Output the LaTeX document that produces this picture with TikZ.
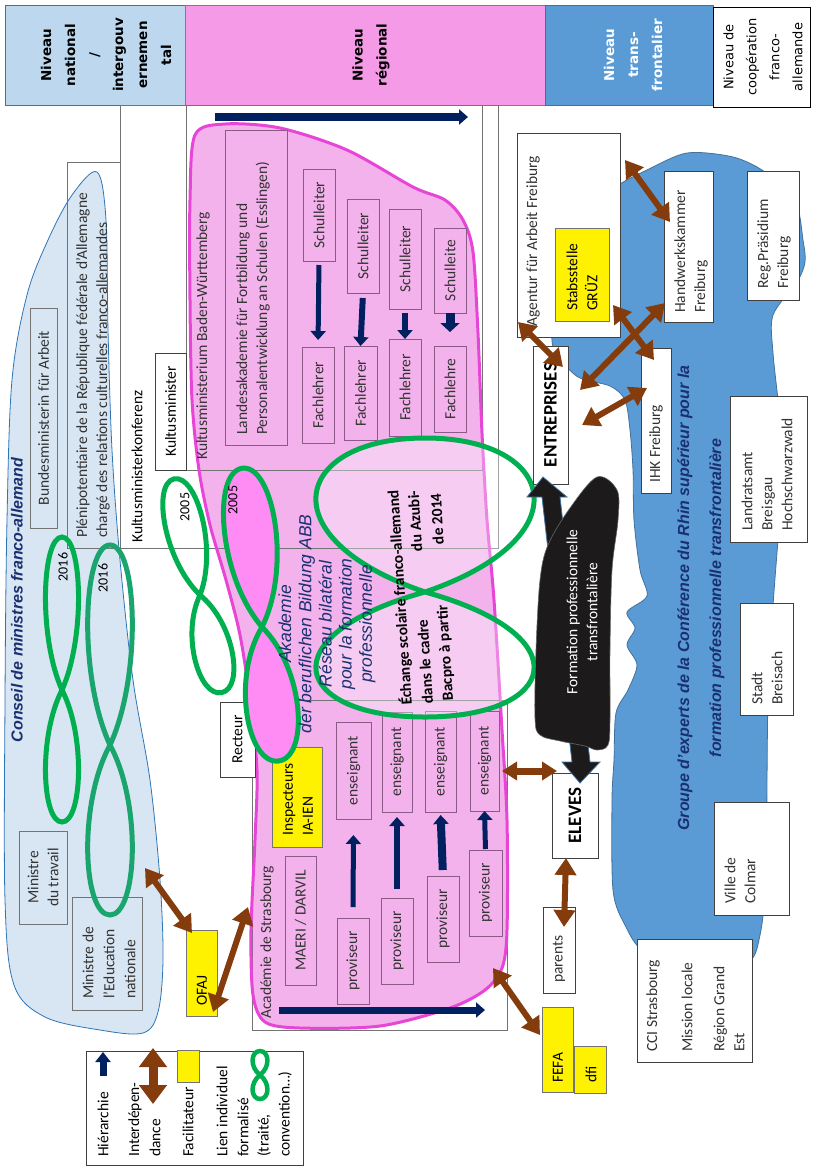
\documentclass[tikz,border=0pt]{standalone}
\usepackage{fontspec}
\setmainfont{Carlito}
\newfontfamily\dejavu{DejaVu Sans}
\newfontfamily\libsans{Liberation Sans}
\usetikzlibrary{arrows.meta}
\definecolor{hdrblue}{HTML}{BDD7EE}
\definecolor{hdrpink}{HTML}{F59AE6}
\definecolor{hdrpinkline}{HTML}{E03CCF}
\definecolor{riverblue}{HTML}{5B9BD5}
\definecolor{riverline}{HTML}{41719C}
\definecolor{conseilfill}{HTML}{D8E5F2}
\definecolor{conseilline}{HTML}{2E75B6}
\definecolor{blobpink}{HTML}{F4B2EC}
\definecolor{blobline}{HTML}{E645D6}
\definecolor{greena}{HTML}{00B050}
\definecolor{greenb}{HTML}{1BA56E}
\definecolor{navyc}{HTML}{002060}
\definecolor{navyt}{HTML}{1A3070}
\definecolor{brownc}{HTML}{843C0C}
\definecolor{magfill}{HTML}{FF8CF4}
\definecolor{pboxline}{HTML}{8B5A86}
\definecolor{txtgray}{HTML}{333333}
\definecolor{darkshape}{HTML}{1C1A1B}
\newcommand\fsz[2]{\fontsize{#1}{#2}\selectfont}
\newcommand\mybox[6]{\node[#6, minimum width={(#4)-(#2)}, minimum height={(#5)-(#3)}] (#1) at ({((#2)+(#4))/2},{((#3)+(#5))/2}) {};}
\newcommand\eightloop[7]{%
\begin{scope}[shift={(#1,#2)}, rotate=#3]
\draw[#7] (0,0) .. controls ({1.2*#4},{-0.35*#5}) and ({#4},{-#5}) .. (0,{-#5})
 .. controls ({-#4},{-#5}) and ({-1.2*#4},{-0.35*#5}) .. (0,0)
 .. controls ({1.2*#4},{0.35*#6}) and ({#4},{#6}) .. (0,{#6})
 .. controls ({-#4},{#6}) and ({-1.2*#4},{0.35*#6}) .. (0,0) -- cycle;
\end{scope}}
\begin{document}
\begin{tikzpicture}[x=1pt,y=-1pt,
 box/.style={draw=black!75, line width=0.8pt, fill=white, inner sep=0pt, outer sep=0pt},
 obox/.style={draw=black!55, line width=0.8pt, inner sep=0pt, outer sep=0pt},
 pbox/.style={draw=pboxline, line width=0.8pt, fill=blobpink, inner sep=0pt, outer sep=0pt},
 ybox/.style={draw=black!55, line width=0.8pt, fill=yellow, inner sep=0pt, outer sep=0pt},
 lbl/.style={inner sep=0pt, rotate=90, text=txtgray, font=\fsz{15.5}{20}, align=center},
 lbll/.style={lbl, align=left, anchor=west},
 hdr/.style={inner sep=0pt, rotate=90, align=center, font=\dejavu\bfseries\fsz{13.5}{24}},
 navyarr/.style={draw=navyc, line width=#1, -{Triangle[width=15pt,length=9pt]}},
 brownarr/.style={draw=brownc, line width=6pt, {Triangle[width=21pt,length=17pt]}-{Triangle[width=21pt,length=17pt]}},
 greenloop/.style={draw=greena, line width=5pt},
 italnavy/.style={inner sep=0pt, rotate=90, align=center, text=navyt}
]
\useasboundingbox (0,0) rectangle (816,1168);

% ---------- Conseil blob ----------
\path[draw=conseilline, line width=0.8pt, fill=conseilfill] plot[smooth cycle, tension=0.55] coordinates {(97,172) (106,220) (108,330) (112,450) (120,560) (133,680) (150,780) (160,880) (163,960) (158,1012) (143,1033) (100,1030) (45,1017) (14,985) (5,900) (5,700) (7,520) (12,380) (27,295) (48,240) (72,195)};
\mybox{bma}{30}{308}{57}{528}{obox}
\mybox{plen}{67}{162}{120}{548}{obox}
\mybox{mtr}{19}{831}{67}{924}{obox}
\mybox{men}{72}{897}{142}{1010}{obox}

% ---------- header ----------
\mybox{h1}{5}{5}{185}{105}{fill=hdrblue, draw=riverline, line width=0.8pt}
\mybox{h2}{185}{5}{545}{105}{fill=hdrpink, draw=hdrpinkline, line width=0.8pt}
\mybox{h3}{545}{5}{713}{105}{fill=riverblue, draw=riverline, line width=0.8pt}
\mybox{h4}{713}{7}{810}{107}{fill=white, draw=black, line width=0.8pt}
\node[hdr] at (106,55) {Niveau\\national\\/\\intergouv\\ernemen\\tal};
\node[hdr] at (371,55) {Niveau\\régional};
\node[hdr, text=white] at (633,55) {Niveau\\trans-\\frontalier};
\node[hdr, font=\dejavu\fsz{13}{23}] at (763,57) {Niveau de\\coopération\\franco-\\allemande};

% ---------- pink blob ----------
\fill[blobpink] plot[smooth cycle, tension=0.5] coordinates {(195,135) (225,124) (280,128) (347,150) (413,187) (445,200) (463,220) (473,252) (478,333) (482,433) (487,520) (494,600) (502,730) (507,820) (507,930) (502,968) (485,990) (450,1008) (380,1026) (300,1028) (265,1022) (253,995) (251,930) (255,840) (257,770) (250,700) (240,635) (226,580) (210,525) (199,470) (192,400) (190,300) (190,200)};
\mybox{kmk}{120}{105}{498}{548}{obox}
\mybox{kmbw}{186}{105}{482}{470}{obox}
\mybox{acad}{252}{700}{507}{1030}{obox}
\draw[blobline, line width=3pt] plot[smooth cycle, tension=0.5] coordinates {(195,135) (225,124) (280,128) (347,150) (413,187) (445,200) (463,220) (473,252) (478,333) (482,433) (487,520) (494,600) (502,730) (507,820) (507,930) (502,968) (485,990) (450,1008) (380,1026) (300,1028) (265,1022) (253,995) (251,930) (255,840) (257,770) (250,700) (240,635) (226,580) (210,525) (199,470) (192,400) (190,300) (190,200)};
\mybox{km}{155}{353}{186}{470}{box}

% inner pink boxes
\mybox{lak}{225}{130}{287}{445}{pbox}
\mybox{s1}{303}{169}{335}{261}{pbox}
\mybox{s2}{347}{199}{379}{293}{pbox}
\mybox{s3}{389}{209}{421}{309}{pbox}
\mybox{s4}{434}{228}{466}{313}{pbox}
\mybox{f1}{302}{347}{334}{443}{pbox}
\mybox{f2}{344}{346}{377}{440}{pbox}
\mybox{f3}{389}{339}{421}{436}{pbox}
\mybox{f4}{434}{346}{466}{432}{pbox}
\mybox{maeri}{285}{856}{316}{985}{pbox}
\mybox{e1}{336}{722}{371}{819}{pbox}
\mybox{e2}{382}{712}{412}{812}{pbox}
\mybox{e3}{425}{711}{456}{812}{pbox}
\mybox{e4}{470}{711}{499}{811}{pbox}
\mybox{p1}{337}{918}{369}{1004}{pbox}
\mybox{p2}{381}{898}{413}{984}{pbox}
\mybox{p3}{427}{876}{459}{962}{pbox}
\mybox{p4}{469}{850}{502}{936}{pbox}
\mybox{rect}{220}{702}{255}{777}{box}
\mybox{insp}{272}{747}{322}{847}{ybox}
\mybox{ofaj}{186}{930}{217}{1016}{ybox}

% ---------- green loops ----------
\eightloop{62}{690}{0}{20}{153}{132}{greenloop}
\eightloop{110}{745}{0}{27}{200}{170}{greenloop, draw=greenb}
\eightloop{200}{595}{12.6}{23}{119}{100}{greenloop}
\eightloop{262}{627}{7}{31}{160}{135}{greenloop, fill=magfill}
\eightloop{425}{592}{0}{132}{154}{125}{greenloop, fill=white, fill opacity=0.35}

% ---------- navy hierarchy arrows ----------
\coordinate (ta1) at (215,117); \coordinate (ta2) at (468,117);
\draw[navyarr=8pt] (ta1) -- (ta2);
\draw[navyarr=5pt, shorten <=4pt, shorten >=7pt] (s1.south) -- (f1.north);
\draw[navyarr=6pt, shorten <=5pt] (s2.south) -- (f2.north);
\draw[navyarr=6pt, shorten <=4pt] (s3.south) -- (f3.north);
\draw[navyarr=9pt, -{Triangle[width=19pt,length=9pt]}, shorten >=14pt] (s4.south) -- (f4.north);
\draw[navyarr=5pt, shorten <=11pt, shorten >=16pt] (p1.north) -- (e1.south);
\draw[navyarr=6pt, shorten <=9pt, shorten >=5pt] (p2.north) -- (e2.south);
\draw[navyarr=8pt, shorten <=6pt, shorten >=3pt] (p3.north) -- (e3.south);
\draw[navyarr=5pt, shorten <=1pt] (p4.north) -- (e4.south);
\coordinate (ba1) at (279,1010); \coordinate (ba2) at (485,1010);
\draw[navyarr=7pt] (ba1) -- (ba2);

% ---------- texts left / middle ----------
\node[italnavy, font=\libsans\bfseries\itshape\fsz{16}{20}] at (17,600) {Conseil de ministres franco-allemand};
\node[lbl] at (bma) {Bundesministerin für Arbeit};
\node[lbll] at (93,538) {Plénipotentiaire de la République fédérale d’Allemagne\\chargé des relations culturelles franco-allemandes};
\node[lbl] at (mtr) {Ministre\\du travail};
\node[lbll, font=\fsz{15.5}{21}] at (109,999) {Ministre de\\l’Education\\nationale};
\node[lbll, text=black] at (137,543) {Kultusministerkonferenz};
\node[lbl, text=black] at (km) {Kultusminister};
\node[lbll] at (203,460) {Kultusministerium Baden-Württemberg};
\node[lbll] at (253,435) {Landesakademie für Fortbildung und\\Personalentwicklung an Schulen (Esslingen)};
\node[lbl] at (s1) {Schulleiter};
\node[lbl] at (s2) {Schulleiter};
\node[lbl] at (s3) {Schulleiter};
\node[lbl] at (s4) {Schulleite};
\node[lbl] at (f1) {Fachlehrer};
\node[lbl] at (f2) {Fachlehrer};
\node[lbl] at (f3) {Fachlehrer};
\node[lbl] at (f4) {Fachlehre};
\node[lbl, text=black, font=\fsz{14}{16}] at (63,567) {2016};
\node[lbl, text=black, font=\fsz{14}{16}] at (103,578) {2016};
\node[lbl, text=black, font=\fsz{14}{16}] at (185,507) {2005};
\node[lbl, text=black, font=\fsz{14}{16}] at (233,500) {2005};
\node[italnavy, font=\libsans\itshape\fsz{17.5}{20.2}] at (327,624) {Akademie\\der beruflichen Bildung ABB\\Réseau bilatéral\\pour la formation\\professionnelle};
\node[lbl, text=black, rotate=3.6, font=\bfseries\fsz{15.5}{20}] at (400,598) {Échange scolaire franco-allemand};
\node[lbl, text=black, rotate=3.6, font=\bfseries\fsz{15.5}{20}] at (425,662) {dans le cadre};
\node[lbl, text=black, rotate=3.6, font=\bfseries\fsz{15.5}{20}] at (415,521) {du Azubi-};
\node[lbl, text=black, rotate=3.6, font=\bfseries\fsz{15.5}{20}] at (446,653) {Bacpro à partir};
\node[lbl, text=black, rotate=3.6, font=\bfseries\fsz{15.5}{20}] at (437,519) {de 2014};
\node[lbl, text=black] at (rect) {Recteur};
\node[lbll, text=black] at (298,836) {Inspecteurs\\IA-IEN};
\node[lbll] at (267,1019) {Académie de Strasbourg};
\node[lbl] at (maeri) {MAERI / DARVIL};
\node[lbl] at (e1) {enseignant};
\node[lbl] at (e2) {enseignant};
\node[lbl] at (e3) {enseignant};
\node[lbl] at (e4) {enseignant};
\node[lbl] at (p1) {proviseur};
\node[lbl] at (p2) {proviseur};
\node[lbl] at (p3) {proviseur};
\node[lbl] at (p4) {proviseur};
\node[lbll, text=black] at (202,1006) {OFAJ};

% ---------- legend ----------
\mybox{leg}{86}{1051}{303}{1165}{box}
\coordinate (lg1) at (103,1076); \coordinate (lg2) at (103,1052);
\draw[navyarr=7pt, -{Triangle[width=15pt,length=10pt]}] (lg1) -- (lg2);
\coordinate (lg3) at (153,1048); \coordinate (lg4) at (153,1104);
\draw[brownarr, line width=9pt, {Triangle[width=27pt,length=19pt]}-{Triangle[width=27pt,length=19pt]}] (lg3) -- (lg4);
\mybox{legy}{177}{1050}{199}{1082}{ybox}
\eightloop{260}{1075}{0}{9}{24}{24}{greenloop, line width=4.5pt}
\node[lbll, text=black] at (103,1157) {Hiérarchie};
\node[lbll, text=black] at (135,1157) {Interdépen-};
\node[lbll, text=black] at (155,1157) {dance};
\node[lbll, text=black] at (188,1157) {Facilitateur};
\node[lbll, text=black] at (222,1157) {Lien individuel};
\node[lbll, text=black] at (243,1157) {formalisé};
\node[lbll, text=black] at (264,1157) {(traité,};
\node[lbll, text=black] at (285,1157) {convention…)};

% ---------- Rhine (right) ----------
\path[draw=riverline, line width=0.8pt, fill=riverblue] plot[smooth cycle, tension=0.5] coordinates {(600,200) (620,184) (647,170) (687,153) (733,157) (765,172) (795,200) (803,240) (805,262) (797,282) (773,315) (773,353) (780,420) (783,483) (778,540) (772,620) (768,700) (767,780) (766,880) (760,935) (748,962) (700,966) (645,952) (625,925) (613,890) (612,800) (614,760) (616,713) (628,690) (637,665) (627,645) (635,628) (627,612) (647,596) (640,570) (634,520) (633,470) (630,430) (625,400) (610,386) (578,377) (556,353) (552,330) (560,250)};
\node[italnavy, font=\libsans\bfseries\itshape\fsz{16}{32}] at (701,598) {Groupe d’experts de la Conférence du Rhin supérieur pour la\\formation professionnelle transfrontalière};

\mybox{agen}{517}{133}{620}{337}{box}
\mybox{stab}{555}{228}{609}{321}{ybox}
\mybox{hwk}{664}{171}{713}{322}{box}
\mybox{reg}{747}{171}{799}{300}{box}
\mybox{ihk}{641}{348}{671}{493}{box}
\mybox{entr}{533}{346}{568}{484}{box}
\mybox{lra}{730}{396}{807}{542}{box}
\mybox{brei}{740}{603}{793}{715}{box}
\mybox{colm}{714}{802}{789}{915}{box}
\mybox{cci}{637}{939}{752}{1062}{box}
\mybox{elev}{552}{773}{598}{858}{box}
\mybox{par}{543}{907}{575}{993}{box}
\mybox{fefa}{542}{1007}{573}{1092}{ybox}
\mybox{dfi}{574}{1046}{606}{1093}{ybox}

\node[lbll] at (533,327) {Agentur für Arbeit Freiburg};
\node[lbll, text=black] at (582,311) {Stabsstelle\\GRÜZ};
\node[lbll] at (691,313) {Handwerkskammer\\Freiburg};
\node[lbll] at (774,289) {Reg.Präsidium\\Freiburg};
\node[lbll] at (656,483) {IHK Freiburg};
\node[lbl, text=black, font=\bfseries\fsz{19}{22}] at (entr) {ENTREPRISES};
\node[lbll] at (767,531) {Landratsamt\\Breisgau\\Hochschwarzwald};
\node[lbll] at (767,705) {Stadt\\Breisach};
\node[lbll] at (740,904) {Ville de\\Colmar};
\node[lbll] at (653,1052) {CCI Strasbourg};
\node[lbll] at (687,1052) {Mission locale};
\node[lbll] at (729,1052) {Région Grand\\Est};
\node[lbl, text=black, font=\bfseries\fsz{19}{22}] at (elev) {ELEVES};
\node[lbll] at (559,983) {parents};
\node[lbll, text=black] at (558,1083) {FEFA};
\node[lbll, text=black] at (591,1083) {dfi};

% ---------- brown interdependence arrows ----------
\coordinate (b1a) at (145,868); \coordinate (b1b) at (192,933);
\coordinate (b2a) at (213,1012); \coordinate (b2b) at (248,907);
\coordinate (b3a) at (493,968); \coordinate (b3b) at (540,1035);
\coordinate (b4a) at (566,858); \coordinate (b4b) at (564,927);
\coordinate (b5a) at (502,771); \coordinate (b5b) at (557,771);
\coordinate (b6a) at (518,322); \coordinate (b6b) at (563,367);
\coordinate (b7a) at (625,160); \coordinate (b7b) at (670,222);
\coordinate (b8a) at (580,390); \coordinate (b8b) at (665,303);
\coordinate (b9a) at (613,305); \coordinate (b9b) at (654,360);
\coordinate (b10a) at (582,425); \coordinate (b10b) at (647,388);
\draw[brownarr] (b1a) -- (b1b);
\draw[brownarr] (b2a) -- (b2b);
\draw[brownarr] (b3a) -- (b3b);
\draw[brownarr] (b4a) -- (b4b);
\draw[brownarr, line width=7pt, {Triangle[width=18pt,length=15pt]}-{Triangle[width=18pt,length=15pt]}] (b5a) -- (b5b);
\draw[brownarr] (b6a) -- (b6b);
\draw[brownarr] (b7a) -- (b7b);
\draw[brownarr] (b8a) -- (b8b);
\draw[brownarr] (b9a) -- (b9b);
\draw[brownarr] (b10a) -- (b10b);

% ---------- black shape ----------
\path[fill=darkshape, draw=riverline, line width=0.8pt] (543,477) -- (567,497) -- (560,497) -- (590,762) -- (600,762) -- (580,783) -- (562,762) -- (572,762) -- (542,497) -- (527,497) -- cycle;
\path[fill=darkshape, draw=black!60, line width=0.6pt] plot[smooth cycle, tension=0.55] coordinates {(597,477) (617,490) (618,520) (612,570) (610,650) (610,720) (608,745) (597,750) (585,746) (560,741) (540,735) (535,718) (536,650) (540,580) (548,545) (570,508)};
\node[lbl, text=white] at (582,612) {Formation professionnelle\\transfrontalière};
\end{tikzpicture}
\end{document}
